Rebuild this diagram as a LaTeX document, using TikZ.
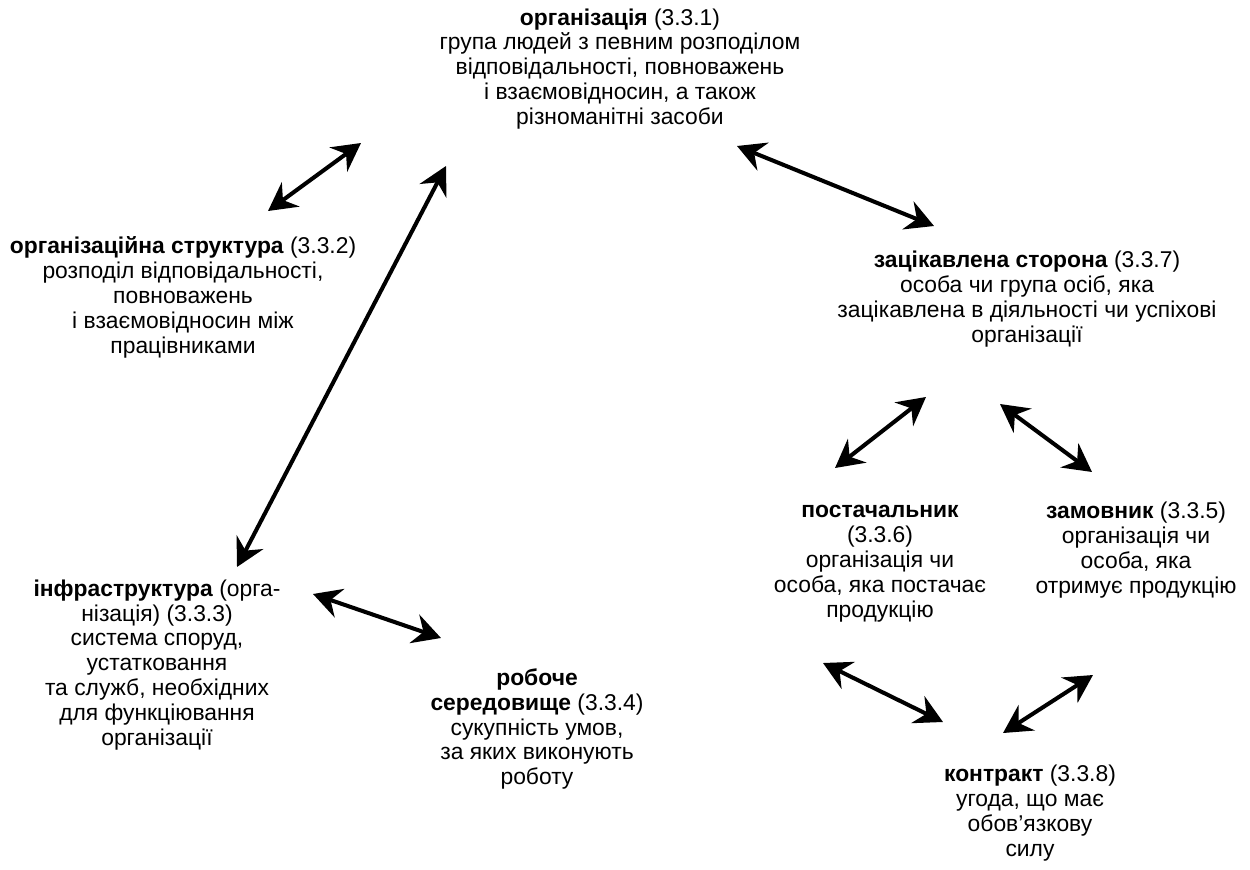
\documentclass[tikz,border=0pt]{standalone}
\usepackage{fontspec}
\setmainfont{Liberation Sans}
\usetikzlibrary{arrows.meta}

\begin{document}
\begin{tikzpicture}
[termDecorate/.style={align=center,inner sep=0pt,font=\fontsize{13}{14.2}\selectfont},%
  arrowDecorate/.style={<->,>={Stealth[length=5.6mm,width=6mm,inset=1.9mm]},line width=2.3pt},%
  x=0.02cm,y=-0.02cm]
\useasboundingbox (0,0) rectangle (1250,869);
%% terms
\node (org) at (620,69) [termDecorate]
  {\textbf{організація} (3.3.1)\\група людей з певним розподілом\\відповідальності, повноважень\\і взаємовідносин, а також\\різноманітні засоби};
\node (struct) at (183,297) [termDecorate]
  {\textbf{організаційна структура} (3.3.2)\\розподіл відповідальності,\\повноважень\\і взаємовідносин між\\працівниками};
\node (infra) at (157,665) [termDecorate]
  {\textbf{інфраструктура} (орга-\\нізація) (3.3.3)\\система споруд,\\устатковання\\та служб, необхідних\\для функціювання\\організації};
\node (env) at (537,729) [termDecorate]
  {\textbf{робоче}\\\textbf{середовище} (3.3.4)\\сукупність умов,\\за яких виконують\\роботу};
\node (party) at (1027,299) [termDecorate]
  {\textbf{зацікавлена сторона} (3.3.7)\\особа чи група осіб, яка\\зацікавлена в діяльності чи успіхові\\організації};
\node (supplier) at (880,564) [termDecorate]
  {\textbf{постачальник}\\(3.3.6)\\організація чи\\особа, яка постачає\\продукцію};
\node (customer) at (1136,550) [termDecorate]
  {\textbf{замовник} (3.3.5)\\організація чи\\особа, яка\\отримує продукцію};
\node (contract) at (1030,813) [termDecorate]
  {\textbf{контракт} (3.3.8)\\угода, що має\\обов’язкову\\силу};
%% arrow ends
\foreach \pointname/\x/\y in {
  structToOrg/268/211, orgToStruct/361/143,
  infraToOrg/237/567, orgToInfra/446/166,
  orgToParty/737/146, partyToOrg/934/226,
  supplierToParty/835/468, partyToSupplier/926/397,
  partyToCustomer/1000/404, customerToParty/1092/472,
  infraToEnv/313/594, envToInfra/441/638,
  supplierToContract/823/663, contractToSupplier/943/722,
  contractToCustomer/1003/733, customerToContract/1093/675}
{
  \coordinate (\pointname) at (\x,\y);
}
%% connectors
\path
\foreach \startnode/\endnode in {
  structToOrg/orgToStruct, infraToOrg/orgToInfra, orgToParty/partyToOrg,
  supplierToParty/partyToSupplier, partyToCustomer/customerToParty,
  infraToEnv/envToInfra, supplierToContract/contractToSupplier,
  contractToCustomer/customerToContract}
{
  (\startnode) edge[arrowDecorate] (\endnode)
};
\end{tikzpicture}
\end{document}
